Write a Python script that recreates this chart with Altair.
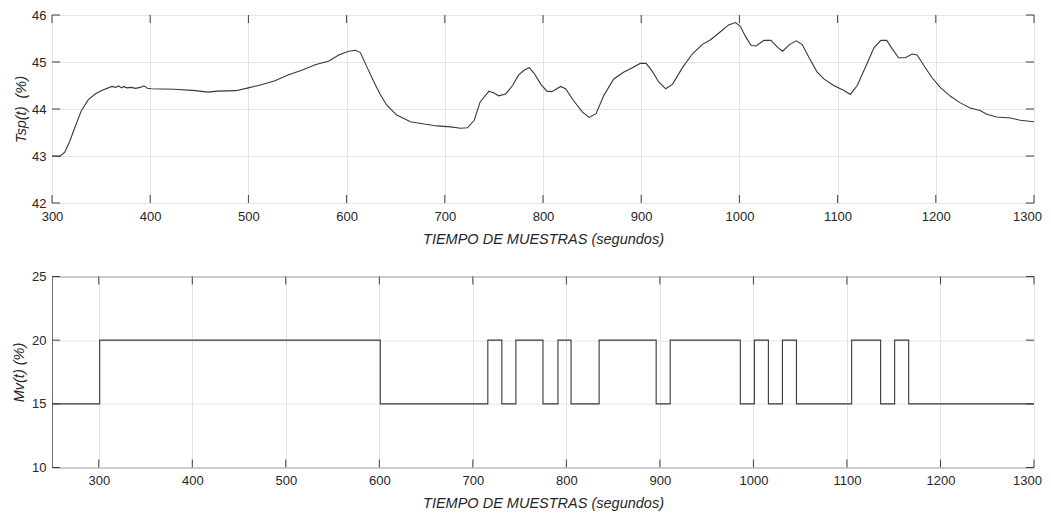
import altair as alt
import pandas as pd

# ---- data ----
tsp_time = [300, 308, 313, 318, 323, 330, 337, 344, 350, 361, 365, 368, 371, 373, 376,
            381, 385, 390, 393, 395, 397, 401, 425, 446, 459, 468, 487, 500, 514, 527,
            541, 555, 568, 582, 592, 602, 609, 614, 621, 628, 634, 641, 651, 665, 679,
            692, 706, 716, 723, 730, 736, 745, 750, 755, 762, 769, 775, 781, 786, 791,
            798, 804, 809, 818, 823, 831, 840, 847, 854, 862, 872, 882, 891, 899, 905,
            911, 918, 925, 932, 942, 952, 962, 971, 981, 989, 996, 1001, 1006, 1012, 1017,
            1025, 1032, 1039, 1044, 1051, 1058, 1064, 1071, 1079, 1086, 1096, 1107, 1113, 1120, 1129,
            1137, 1144, 1150, 1155, 1162, 1169, 1176, 1181, 1188, 1196, 1205, 1215, 1225, 1235, 1245,
            1252, 1262, 1276, 1286, 1300]
tsp_value = [43.00, 42.99, 43.08, 43.31, 43.59, 43.97, 44.20, 44.32, 44.39, 44.48, 44.46, 44.49, 44.45, 44.48, 44.45,
             44.46, 44.44, 44.46, 44.49, 44.48, 44.44, 44.43, 44.42, 44.39, 44.36, 44.38, 44.39, 44.45, 44.52, 44.60,
             44.73, 44.83, 44.94, 45.02, 45.15, 45.23, 45.25, 45.20, 44.88, 44.57, 44.32, 44.08, 43.87, 43.73, 43.68,
             43.64, 43.62, 43.59, 43.60, 43.76, 44.15, 44.38, 44.34, 44.28, 44.32, 44.50, 44.72, 44.83, 44.88, 44.76,
             44.52, 44.38, 44.37, 44.48, 44.43, 44.18, 43.94, 43.82, 43.90, 44.29, 44.64, 44.78, 44.88, 44.97, 44.97,
             44.81, 44.57, 44.43, 44.53, 44.88, 45.17, 45.37, 45.48, 45.65, 45.79, 45.84, 45.76, 45.55, 45.35, 45.34,
             45.46, 45.46, 45.31, 45.23, 45.37, 45.45, 45.37, 45.09, 44.79, 44.64, 44.50, 44.39, 44.31, 44.50, 44.92,
             45.30, 45.46, 45.46, 45.30, 45.09, 45.09, 45.17, 45.15, 44.92, 44.67, 44.45, 44.27, 44.13, 44.02, 43.97,
             43.89, 43.83, 43.81, 43.76, 43.73]

mv_time = [250, 301, 601, 716, 731, 746, 775, 791, 805, 835, 896, 911, 986, 1001,
           1016, 1031, 1046, 1105, 1136, 1151, 1166, 1300]
mv_value = [15, 20, 15, 20, 15, 20, 15, 20, 15, 20, 15, 20, 15, 20,
            15, 20, 15, 20, 15, 20, 15, 15]

x_ticks = [300, 400, 500, 600, 700, 800, 900, 1000, 1100, 1200, 1300]
tsp_ticks = [42, 43, 44, 45, 46]
mv_ticks = [10, 15, 20, 25]

x_title = "TIEMPO DE MUESTRAS (segundos)"
tsp_title = "Tsp(t)\u00a0\u00a0(%)"
mv_title = "Mv(t) (%)"

# ---- styling ----
W = 982
TICK = 8
FONT = "Liberation Sans"
TXT = "#262626"
LINE = "#383838"
TICKC = "#404040"


def panel(df, xdom, ydom, ytitle, yticks, ytp, interp, H):
    xs = alt.Scale(domain=xdom, nice=False, zero=False)
    ys = alt.Scale(domain=ydom, nice=False, zero=False)
    xaxis = alt.Axis(values=x_ticks, title=x_title, format="d", labelPadding=7,
                     titlePadding=9, labelFlush=False,
                     labelOffset=alt.condition("datum.value == 1300",
                                               alt.value(-7), alt.value(0)))
    yaxis = alt.Axis(values=yticks, title=ytitle, format="d", labelPadding=6,
                     titlePadding=ytp)
    X = alt.X("t:Q", scale=xs, axis=xaxis)
    Y = alt.Y("v:Q", scale=ys, axis=yaxis)
    line = alt.Chart(df).mark_line(color=LINE, strokeWidth=1.1, interpolate=interp,
                                   clip=True).encode(x=X, y=Y)
    xt = pd.DataFrame({"t": x_ticks})
    yt = pd.DataFrame({"v": yticks})
    xb = alt.Chart(xt).mark_rule(color=TICKC, strokeWidth=1).encode(
        x=X, y=alt.value(H), y2=alt.value(H - TICK))
    xtp = alt.Chart(xt).mark_rule(color=TICKC, strokeWidth=1).encode(
        x=X, y=alt.value(0), y2=alt.value(TICK))
    yl = alt.Chart(yt).mark_rule(color=TICKC, strokeWidth=1).encode(
        y=Y, x=alt.value(0), x2=alt.value(TICK))
    yr = alt.Chart(yt).mark_rule(color=TICKC, strokeWidth=1).encode(
        y=Y, x=alt.value(W), x2=alt.value(W - TICK))
    return alt.layer(line, xb, xtp, yl, yr).properties(width=W, height=H)


top_df = pd.DataFrame({"t": tsp_time, "v": tsp_value})
bot_df = pd.DataFrame({"t": mv_time, "v": mv_value})

top = panel(top_df, [300, 1300], [42, 46], tsp_title, tsp_ticks, 3, "linear", 188)
bottom = panel(bot_df, [250, 1300], [10, 25], mv_title, mv_ticks, 5, "step-after", 191)

chart = alt.vconcat(top, bottom, spacing=23.5).properties(
    padding={"left": 3, "top": 0, "right": 0, "bottom": 5},
    background="white",
).configure_view(
    stroke="#707070", strokeWidth=1
).configure_axis(
    domain=False, ticks=False, grid=True, gridColor="#e4e4e4", gridWidth=1,
    labelFont=FONT, labelFontSize=13, labelColor=TXT,
    titleFont=FONT, titleFontSize=14.5, titleFontWeight="normal",
    titleFontStyle="italic", titleColor=TXT,
)

chart.save("out.html", embed_options={"renderer": "svg", "actions": False})
